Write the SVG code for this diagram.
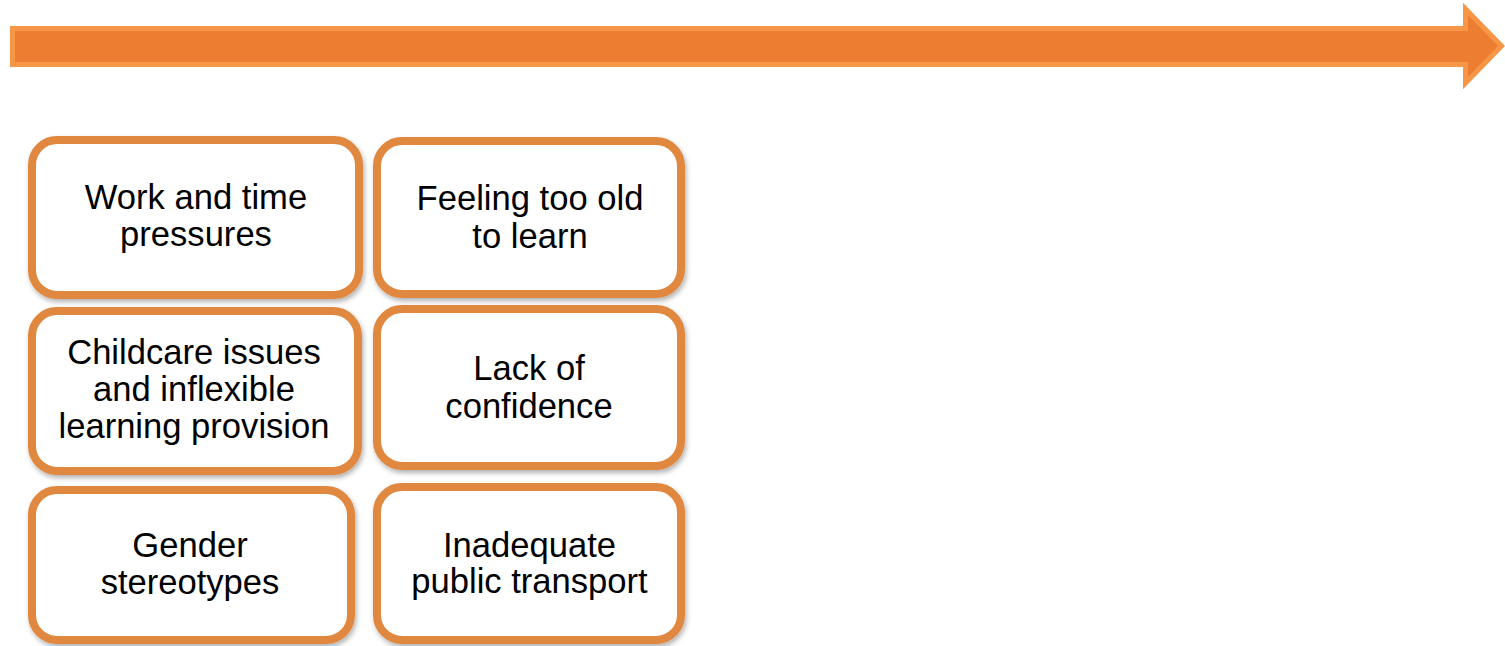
<svg xmlns="http://www.w3.org/2000/svg" width="1505" height="646" viewBox="0 0 1505 646">
  <defs>
    <filter id="shadow" x="-10%" y="-10%" width="125%" height="130%">
      <feDropShadow dx="1.5" dy="3" stdDeviation="2.5" flood-color="#000" flood-opacity="0.3"/>
    </filter>
    <style>
      .box { fill: #ffffff; stroke: #E0883F; stroke-width: 8; filter: url(#shadow); }
      .label { font-family: "Liberation Sans", Arial, sans-serif; font-size: 34.6px; fill: #000; text-anchor: middle; }
      .timeline { fill: #ED7D31; stroke: #F79646; stroke-width: 5; stroke-linejoin: miter; }
    </style>
  </defs>

  <!-- timeline arrow across the top -->
  <g id="timeline-arrow">
    <polygon class="timeline" points="12.5,28.5 1465.5,28.5 1465.5,9 1501.5,46 1465.5,83 1465.5,64.5 12.5,64.5"/>
  </g>

  <!-- connectors: none in this layout -->
  <g id="connectors"/>

  <g id="node-work-time">
    <rect class="box" x="32" y="140" width="327" height="155" rx="25"/>
    <text class="label" x="196" y="209">Work and time</text>
    <text class="label" x="196" y="246">pressures</text>
  </g>

  <g id="node-too-old">
    <rect class="box" x="377" y="141" width="304" height="153" rx="25"/>
    <text class="label" x="530" y="210">Feeling too old</text>
    <text class="label" x="530" y="248">to learn</text>
  </g>

  <g id="node-childcare">
    <rect class="box" x="32" y="311" width="326" height="160" rx="25"/>
    <text class="label" x="194" y="364">Childcare issues</text>
    <text class="label" x="194" y="401">and inflexible</text>
    <text class="label" x="194" y="438">learning provision</text>
  </g>

  <g id="node-confidence">
    <rect class="box" x="377" y="309" width="304" height="157" rx="25"/>
    <text class="label" x="529" y="380">Lack of</text>
    <text class="label" x="529" y="418">confidence</text>
  </g>

  <g id="node-gender">
    <rect class="box" x="32" y="490" width="319" height="150" rx="25"/>
    <text class="label" x="190" y="557">Gender</text>
    <text class="label" x="190" y="594">stereotypes</text>
  </g>

  <g id="node-transport">
    <rect class="box" x="377" y="487" width="304" height="153" rx="25"/>
    <text class="label" x="529.5" y="557">Inadequate</text>
    <text class="label" x="529.5" y="593">public transport</text>
  </g>
</svg>
